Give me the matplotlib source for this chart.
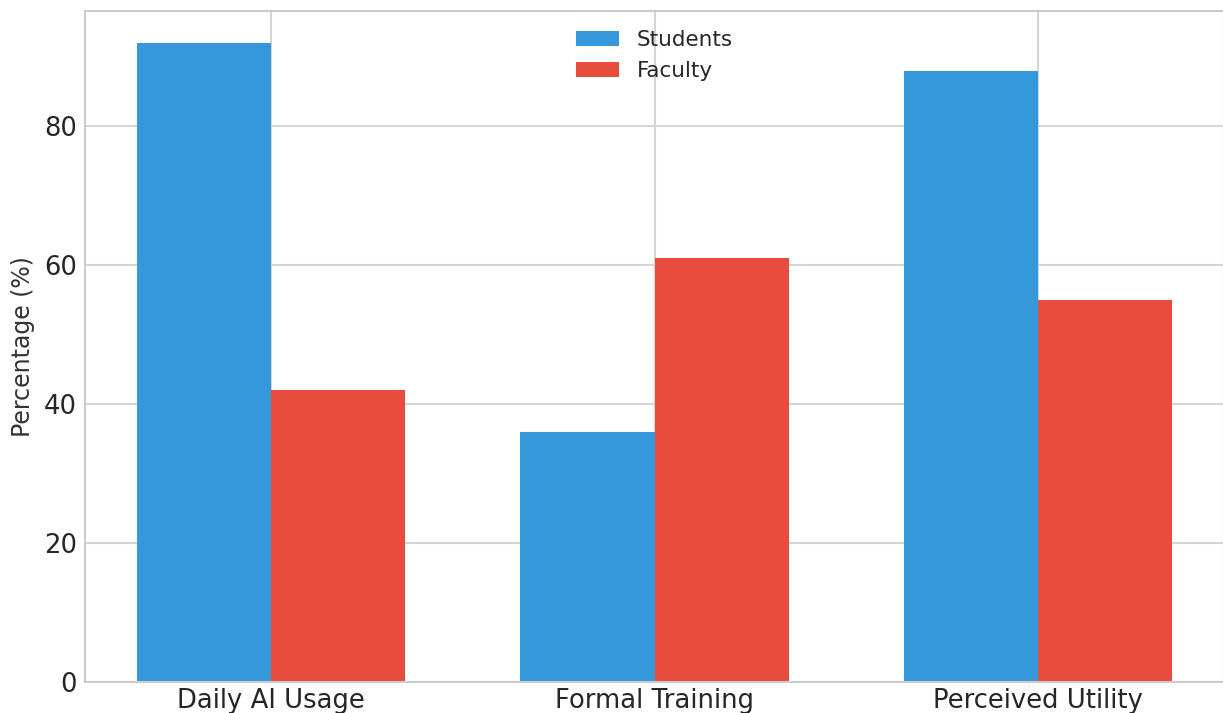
import numpy as np
import matplotlib
matplotlib.use("Agg")
import matplotlib.pyplot as plt

BLUE = "#3498db"
RED = "#e74c3c"

categories = ["Daily AI Usage", "Formal Training", "Perceived Utility"]
students = [92, 36, 88]
faculty = [42, 61, 55]

plt.style.use("seaborn-v0_8-whitegrid")
plt.rcParams["font.family"] = ["DejaVu Sans"]

fig = plt.figure(figsize=(12.23, 7.13), dpi=100)
# figure is a crop of a bigger plot: axes run past the right and bottom edges
ax = fig.add_axes([85 / 1223, 31 / 713, 1139 / 1223, 671 / 713])

x = np.arange(len(categories))
width = 0.35

ax.bar(x - width / 2, students, width, color=BLUE, label="Students")
ax.bar(x + width / 2, faculty, width, color=RED, label="Faculty")

ax.set_xticks(x)
ax.set_xticklabels(categories)
ax.set_ylabel("Percentage (%)", fontsize=17, color="#333333", labelpad=6)
ax.tick_params(axis="both", labelsize=18.6, colors="#262626", pad=6)
ax.tick_params(axis="x", pad=4.5)

for s in ax.spines.values():
    s.set_color("#cccccc")
    s.set_linewidth(1.5)
ax.grid(True, color="#d5d5d5", linewidth=1.5)
ax.set_axisbelow(True)

ax.legend(loc="upper center", fontsize=15.5, frameon=False)

fig.savefig("out.png", dpi=100)
